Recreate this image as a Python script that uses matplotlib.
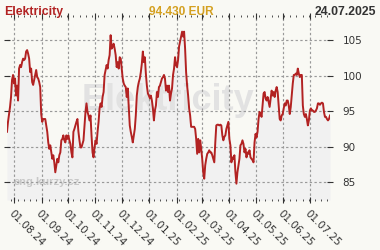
import numpy as np
import pandas as pd
import matplotlib
matplotlib.use("Agg")
import matplotlib.pyplot as plt
import matplotlib.dates as mdates

# Elektricity price, EUR (roughly one point per pixel)
prices = [
    92.1, 93.5, 94.6, 95.6, 97.0, 99.4, 100.1, 98.9, 99.6, 97.2, 98.6, 96.5, 101.0, 101.5, 101.2, 101.9,
    102.4, 102.2, 102.4, 103.4, 103.6, 103.1, 102.4, 100.5, 101.0, 99.1, 98.7, 99.4, 100.1, 100.8, 99.8, 99.6,
    99.1, 98.4, 94.6, 93.5, 93.9, 93.9, 93.9, 93.0, 92.1, 90.6, 89.7, 90.2, 89.2, 88.3, 88.8, 87.8,
    86.4, 87.4, 88.3, 87.8, 88.8, 89.2, 90.9, 91.1, 91.6, 90.9, 90.6, 91.6, 91.1, 91.6, 90.9, 90.4,
    89.2, 88.5, 92.1, 92.5, 93.0, 93.5, 93.9, 92.1, 90.9, 89.9, 89.9, 90.4, 90.9, 93.0, 94.9, 96.1,
    94.9, 94.4, 93.7, 94.4, 91.6, 89.2, 88.5, 89.9, 90.9, 90.4, 92.1, 93.5, 95.4, 96.1, 95.6, 97.0,
    97.7, 100.1, 100.8, 101.5, 101.0, 102.2, 102.9, 105.7, 103.8, 104.1, 104.5, 103.8, 102.9, 101.2, 101.9, 101.0,
    102.6, 102.4, 101.0, 99.6, 98.9, 98.6, 98.4, 97.0, 98.2, 95.6, 93.0, 92.1, 91.4, 90.6, 91.6, 92.5,
    94.4, 97.2, 98.4, 99.1, 99.6, 100.5, 101.7, 103.4, 101.9, 102.6, 100.3, 98.6, 97.5, 97.2, 96.8, 97.2,
    96.5, 95.4, 93.7, 95.1, 95.8, 97.7, 97.0, 98.4, 98.6, 99.1, 99.6, 99.8, 100.1, 99.6, 97.9, 98.6,
    97.7, 98.6, 96.5, 97.5, 98.2, 100.1, 101.0, 102.6, 101.5, 101.2, 102.2, 104.1, 104.8, 105.5, 106.2, 105.5,
    106.2, 103.8, 100.5, 98.6, 97.2, 95.4, 94.4, 92.8, 92.8, 92.8, 92.8, 92.5, 91.1, 89.0, 91.1, 89.2,
    90.9, 89.7, 88.3, 86.4, 85.5, 87.4, 88.3, 89.0, 89.2, 89.5, 89.2, 89.2, 88.8, 88.3, 87.8, 90.6,
    93.0, 93.1, 93.1, 93.0, 93.1, 93.0, 91.6, 90.9, 91.4, 91.6, 92.5, 93.0, 93.5, 91.1, 90.2, 87.8,
    88.5, 88.3, 88.8, 86.4, 84.8, 86.4, 87.4, 88.3, 90.2, 90.4, 90.9, 90.4, 89.2, 89.7, 88.5, 89.2,
    89.0, 89.5, 88.5, 88.3, 88.1, 87.8, 90.6, 91.8, 91.3, 92.1, 93.9, 94.9, 94.6, 94.2, 95.8, 97.5,
    97.7, 96.8, 96.5, 97.0, 96.3, 95.6, 96.8, 97.9, 97.2, 97.7, 97.0, 97.9, 98.4, 97.7, 95.8, 93.9,
    93.7, 94.4, 94.6, 95.4, 96.1, 95.8, 96.5, 96.5, 95.8, 94.6, 95.6, 97.2, 98.9, 100.1, 100.1, 100.3,
    100.1, 101.0, 100.3, 99.8, 100.1, 100.1, 95.8, 94.6, 94.2, 94.6, 93.9, 93.0, 93.7, 95.1, 95.4, 95.1,
    95.1, 94.9, 94.9, 95.1, 95.4, 96.1, 96.1, 95.9, 96.1, 96.2, 96.1, 94.9, 94.2, 94.2, 93.9, 93.7,
    93.9, 94.4,
]
start_date = "2024-07-24"
end_date = "2025-07-24"
y_ticks = [85, 90, 95, 100, 105]
title = "Elektricity"
last_price = "94.430 EUR"
last_date = "24.07.2025"
watermark = "eng.kurzy.cz"

dates = pd.date_range(start_date, end_date, periods=len(prices))

bg = "#f9f9f4"
fig = plt.figure(figsize=(3.8, 2.5), dpi=100, facecolor=bg)
ax = fig.add_axes([7 / 380, 50 / 250, 323 / 380, 184 / 250])
ax.set_facecolor(bg)

ymin, ymax = 82.5, 108.4
ax.fill_between(dates, prices, ymin, color="#f1f1f1", lw=0, zorder=1)
ax.plot(dates, prices, color="#b22222", lw=1.4, zorder=3)

# big grey name behind the line
ax.text(0.5, 0.49, title, transform=ax.transAxes, ha="center", va="baseline",
        fontsize=26, fontweight="bold", family="Liberation Sans", color="#e2e2e2", zorder=1.2)
ax.text(0.019, 0.08, watermark, transform=ax.transAxes, ha="left", va="baseline",
        fontsize=8, fontweight="bold", family="Liberation Sans", color="#c8c8c8", zorder=1.2)

ax.set_xlim(pd.Timestamp(start_date), pd.Timestamp(end_date))
ax.set_ylim(ymin, ymax)
ax.set_yticks(y_ticks)
ax.yaxis.tick_right()
ax.tick_params(axis="y", which="major", left=True, right=True, direction="inout", length=4,
               color="#333333", labelsize=7.5, labelcolor="#333333", pad=7)

ax.xaxis.set_major_locator(mdates.MonthLocator())
ax.xaxis.set_major_formatter(mdates.DateFormatter("%d.%m.%y"))
ax.xaxis.set_minor_locator(mdates.WeekdayLocator(byweekday=mdates.MO))
ax.tick_params(axis="x", which="major", bottom=True, top=True, direction="inout", length=4,
               color="#333333", labelsize=7.5, labelcolor="#333333", pad=4)
ax.tick_params(axis="x", which="minor", bottom=True, top=True, direction="inout", length=2,
               color="#333333")
for lbl in ax.get_xticklabels():
    lbl.set_rotation(-45)
    lbl.set_ha("left")
    lbl.set_va("top")
    lbl.set_rotation_mode("anchor")

ax.set_axisbelow(False)
ax.grid(True, which="major", color="#999999", lw=0.85, linestyle=(0, (2, 2)))
for s in ax.spines.values():
    s.set_visible(False)

# header line
fig.text(4 / 380, 1 - 15 / 250, title, ha="left", va="baseline", fontsize=8.8,
         fontweight="bold", family="Liberation Sans", color="#b22222")
fig.text(181 / 380, 1 - 15 / 250, last_price, ha="center", va="baseline", fontsize=8.6,
         fontweight="bold", family="Liberation Sans", color="#d4a020")
fig.text(376 / 380, 1 - 15 / 250, last_date, ha="right", va="baseline", fontsize=8.8,
         fontweight="bold", family="Liberation Sans", color="#333333")

fig.savefig("out.png", dpi=100, facecolor=bg)
